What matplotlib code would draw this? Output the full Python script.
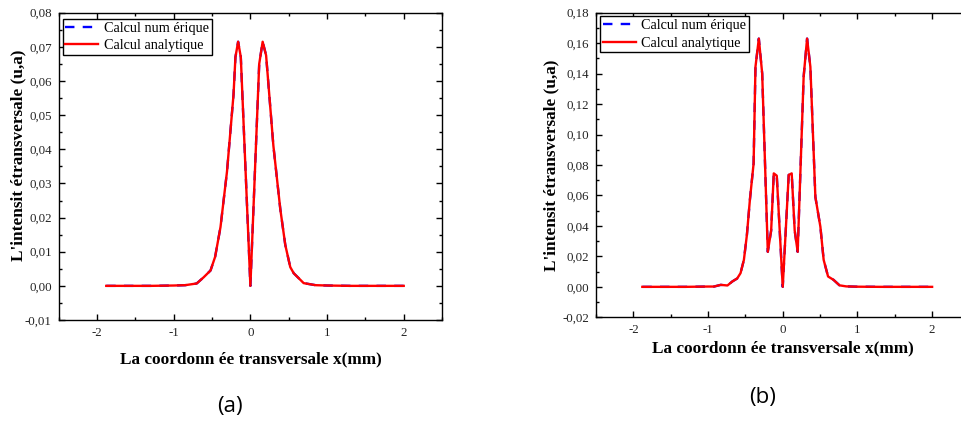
import matplotlib
matplotlib.use("Agg")
import matplotlib.pyplot as plt
from matplotlib.ticker import MultipleLocator, FuncFormatter

plt.rcParams["font.family"] = ["Liberation Serif", "DejaVu Serif"]

# Panel (a): transverse intensity profile
xa = [-1.88, -1.6, -1.3, -1.0, -0.85, -0.70, -0.61, -0.52, -0.46, -0.39,
      -0.305, -0.22, -0.195, -0.16, -0.125, 0.0, 0.115, 0.16, 0.205, 0.30,
      0.39, 0.455, 0.52, 0.565, 0.695, 0.85, 1.0, 1.3, 1.6, 2.0]
ya_num = [0.0, 0.0, 0.0, 0.0001, 0.0002, 0.0007, 0.0025, 0.0045, 0.0085, 0.0172,
          0.0335, 0.056, 0.067, 0.0715, 0.067, 0.0, 0.065, 0.0715, 0.0675, 0.041,
          0.0225, 0.012, 0.0055, 0.0037, 0.0008, 0.0002, 0.0001, 0.0, 0.0, 0.0]
ya_ana = list(ya_num)

# Panel (b): transverse intensity profile
xb = [-1.88, -1.6, -1.3, -1.0, -0.92, -0.83, -0.74, -0.676, -0.61, -0.565,
      -0.52, -0.48, -0.44, -0.39, -0.365, -0.32, -0.275, -0.20, -0.155, -0.12,
      -0.08, 0.0, 0.08, 0.12, 0.16, 0.20, 0.28, 0.326, 0.37, 0.437,
      0.504, 0.548, 0.607, 0.68, 0.76, 0.85, 1.0, 1.3, 1.6, 2.0]
yb_num = [0.0, 0.0, 0.0, 0.0002, 0.0002, 0.0013, 0.0009, 0.0035, 0.0055, 0.009,
          0.0177, 0.034, 0.057, 0.081, 0.1445, 0.163, 0.140, 0.023, 0.037, 0.0745,
          0.073, 0.0, 0.0735, 0.0745, 0.037, 0.023, 0.138, 0.163, 0.1445, 0.059,
          0.0395, 0.0177, 0.0068, 0.0046, 0.001, 0.0003, 0.0001, 0.0, 0.0, 0.0]
yb_ana = list(yb_num)

labels = ["Calcul num érique", "Calcul analytique"]
xlabel = "La coordonn ée transversale x(mm)"
ylabel = "L'intensit étransversale (u,a)"

fig = plt.figure(figsize=(9.61, 4.21), dpi=100)

comma = FuncFormatter(lambda v, p: f"{v:.2f}".replace(".", ",") if abs(v) > 1e-9 else "0,00")
intfmt = FuncFormatter(lambda v, p: f"{v:.0f}")


def panel(rect, x, y_num, y_ana, ylim, ymaj, ymin, xlabel_pad, ylabel_pad,
          ylabel_y, legend_anchor):
    ax = fig.add_axes(rect)
    ax.plot(x, y_num, color="#0000ff", lw=1.7, ls=(0, (4, 3.5)), label=labels[0])
    ax.plot(x, y_ana, color="#ff0000", lw=1.7, label=labels[1])
    ax.set_xlim(-2.5, 2.5)
    ax.set_ylim(*ylim)
    ax.xaxis.set_major_locator(MultipleLocator(1))
    ax.xaxis.set_minor_locator(MultipleLocator(0.5))
    ax.yaxis.set_major_locator(MultipleLocator(ymaj))
    ax.yaxis.set_minor_locator(MultipleLocator(ymin))
    ax.xaxis.set_major_formatter(intfmt)
    ax.yaxis.set_major_formatter(comma)
    ax.tick_params(which="both", direction="in", top=True, right=True,
                   labelsize=9.3, width=1.0, labelcolor="#222222")
    ax.tick_params(which="major", length=4, pad=5)
    ax.tick_params(which="minor", length=2.5)
    for s in ax.spines.values():
        s.set_linewidth(1.0)
    ax.set_xlabel(xlabel, fontsize=12.4, fontweight="bold", labelpad=xlabel_pad)
    ax.set_ylabel(ylabel, fontsize=12.4, fontweight="bold", labelpad=ylabel_pad)
    ax.yaxis.label.set_y(ylabel_y)
    leg = ax.legend(loc="upper left", bbox_to_anchor=legend_anchor, fontsize=10.3,
                    frameon=True, fancybox=False, framealpha=1, edgecolor="black",
                    handlelength=2.3, handletextpad=0.4, labelspacing=0.3,
                    borderpad=0.2, borderaxespad=0.0)
    leg.get_frame().set_linewidth(1.0)
    return ax


ax1 = panel([0.0611, 0.2399, 0.3989, 0.7299], xa, ya_num, ya_ana,
            (-0.01, 0.08), 0.01, 0.005, 9, -1, 0.535, (0.010, 0.980))
ax2 = panel([0.6202, 0.2463, 0.3886, 0.7235], xb, yb_num, yb_ana,
            (-0.02, 0.18), 0.02, 0.01, 3, 2, 0.5, (0.010, 0.988))

fig.text(0.239, 0.035, "(a)", fontsize=16, family=["Open Sans", "DejaVu Sans"],
         ha="center", va="center")
fig.text(0.794, 0.055, "(b)", fontsize=16, family=["Open Sans", "DejaVu Sans"],
         ha="center", va="center")

fig.savefig("out.png", dpi=100)
